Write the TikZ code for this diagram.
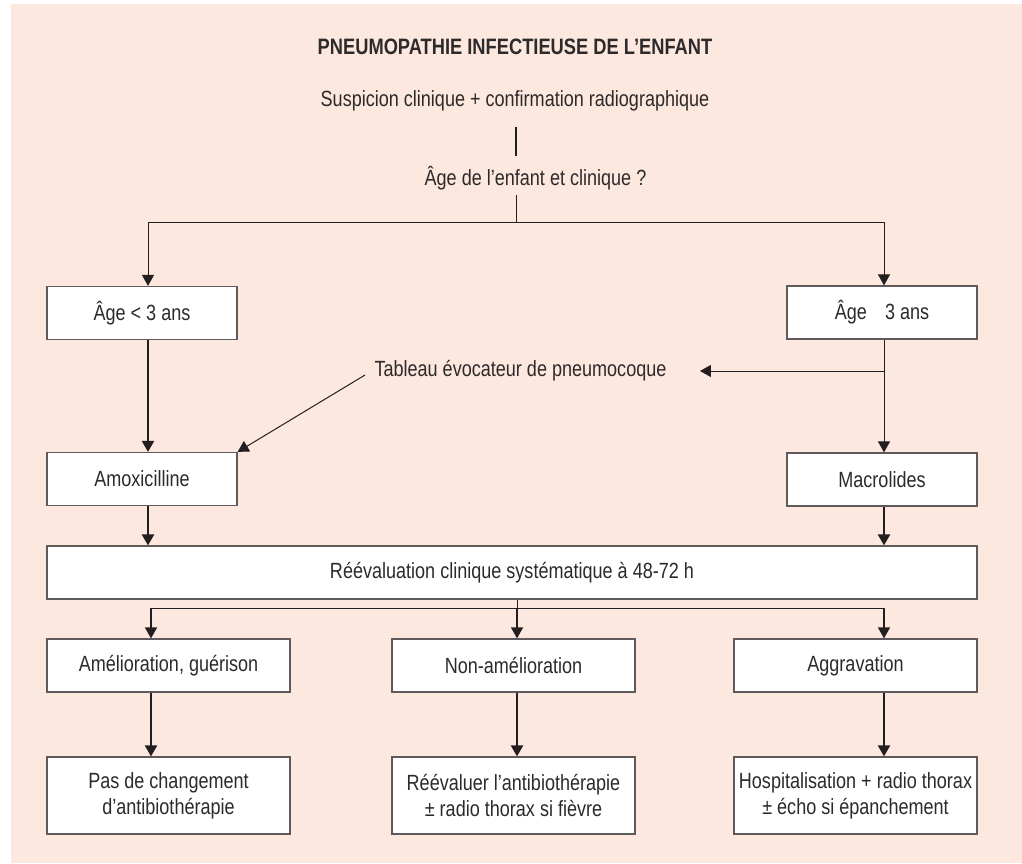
\documentclass[tikz,border=0pt]{standalone}
\usepackage{fontspec}
\setmainfont{Liberation Sans}[FakeStretch=0.82]
\usetikzlibrary{arrows.meta,calc}
\definecolor{bgpink}{HTML}{FCE8DE}
\definecolor{ink}{HTML}{231F20}
\definecolor{boxline}{HTML}{5E5A5B}
\definecolor{txt}{HTML}{2E2A2B}
\begin{document}
\begin{tikzpicture}[x=1pt,y=-1pt,
  every node/.style={text=txt, font=\fontsize{22}{26}\selectfont},
  box/.style={draw=boxline, line width=1.2pt, fill=white, inner sep=0pt, align=center},
  smallbox/.style={box, minimum width=190pt, minimum height=53pt},
  outbox/.style={box, minimum width=243pt, minimum height=53pt},
  endbox/.style={box, minimum width=243pt, minimum height=77pt},
  thin/.style={draw=ink, line width=1pt},
  thick/.style={draw=ink, line width=2.2pt},
  tip/.style={-{Triangle[width=12pt,length=11pt]}},
  arrthin/.style={thin, tip},
  arrthick/.style={thick, tip}]
\useasboundingbox (0,0) rectangle (1022,864);
\fill[bgpink] (11,4) rectangle (1022,863);

% column positions used by the connectors
\coordinate (cL) at (148,0);
\coordinate (cM) at (516,0);
\coordinate (cR) at (884,0);
\coordinate (bL) at (151,0);
\coordinate (bM) at (517,0);

% headings
\node (title) at (515,47) {\bfseries\fontsize{22.3}{26}\selectfont PNEUMOPATHIE INFECTIEUSE DE L’ENFANT};
\node (susp) at (515,101) {Suspicion clinique + confirmation radiographique};
\node (age) at (535.5,178) {Âge de l’enfant et clinique ?};

% age groups and first-line treatment
\node[smallbox] (young) at (142,313) {Âge < 3 ans};
\node[smallbox] (old) at (882,312.5) {Âge \hspace{0.6em}3 ans};
\node (pneumo) at (520.5,371) {Tableau évocateur de pneumocoque};
\node[smallbox] (amox) at (142,479) {Amoxicilline};
\node[smallbox] (macro) at (882,479.5) {Macrolides};

% reassessment
\node[box, minimum width=930pt, minimum height=53pt] (reeval) at (512,572.5) {Réévaluation clinique systématique à 48-72 h};

% outcomes
\node[outbox] (better) at (168.5,665.5) {Amélioration, guérison};
\node[outbox] (same) at (513.5,665.5) {Non-amélioration};
\node[outbox] (worse) at (855.5,665.5) {Aggravation};
\node[endbox] (keep) at (168.5,795.5) {Pas de changement\\d’antibiothérapie};
\node[endbox] (review) at (513.5,795.5) {Réévaluer l’antibiothérapie\\± radio thorax si fièvre};
\node[endbox] (hosp) at (855.5,795.5) {Hospitalisation + radio thorax\\± écho si épanchement};

% connectors
\draw[draw=ink, line width=1.7pt] ([yshift=-12pt]susp.south -| cM) -- ([yshift=7pt]age.north -| cM);
\coordinate (split) at ($(age.south -| cM)+(0,29)$);
\draw[thin] ([yshift=-2pt]age.south -| cM) -- (split);
\draw[arrthin] (split) -| (young.north -| cL);
\draw[arrthin] (split) -| (old.north -| cR);
\draw[arrthick] (young.south -| cL) -- (amox.north -| cL);
\draw[arrthin] (old.south -| cR) -- (macro.north -| cR);
\coordinate (fork) at (pneumo.east -| cR);
\draw[arrthin] (fork) -- ([xshift=30pt]pneumo.east);
\draw[arrthin] ([xshift=-6pt,yshift=-4pt]pneumo.west) -- (amox.north east);
\draw[arrthick] (amox.south -| cL) -- (reeval.north -| cL);
\draw[arrthick] (macro.south -| cR) -- (reeval.north -| cR);
\coordinate (split2) at ($(reeval.south -| bM)+(0,9)$);
\draw[thin] (reeval.south -| bM) -- (split2);
\draw[arrthin, line width=1.5pt] (split2) -| (better.north -| bL);
\draw[arrthin, line width=1.5pt] (split2) -- (same.north -| bM);
\draw[arrthin, line width=1.5pt] (split2) -| (worse.north -| cR);
\draw[arrthick] (better.south -| bL) -- (keep.north -| bL);
\draw[arrthick] (same.south -| bM) -- (review.north -| bM);
\draw[arrthick] (worse.south -| cR) -- (hosp.north -| cR);
\end{tikzpicture}
\end{document}
